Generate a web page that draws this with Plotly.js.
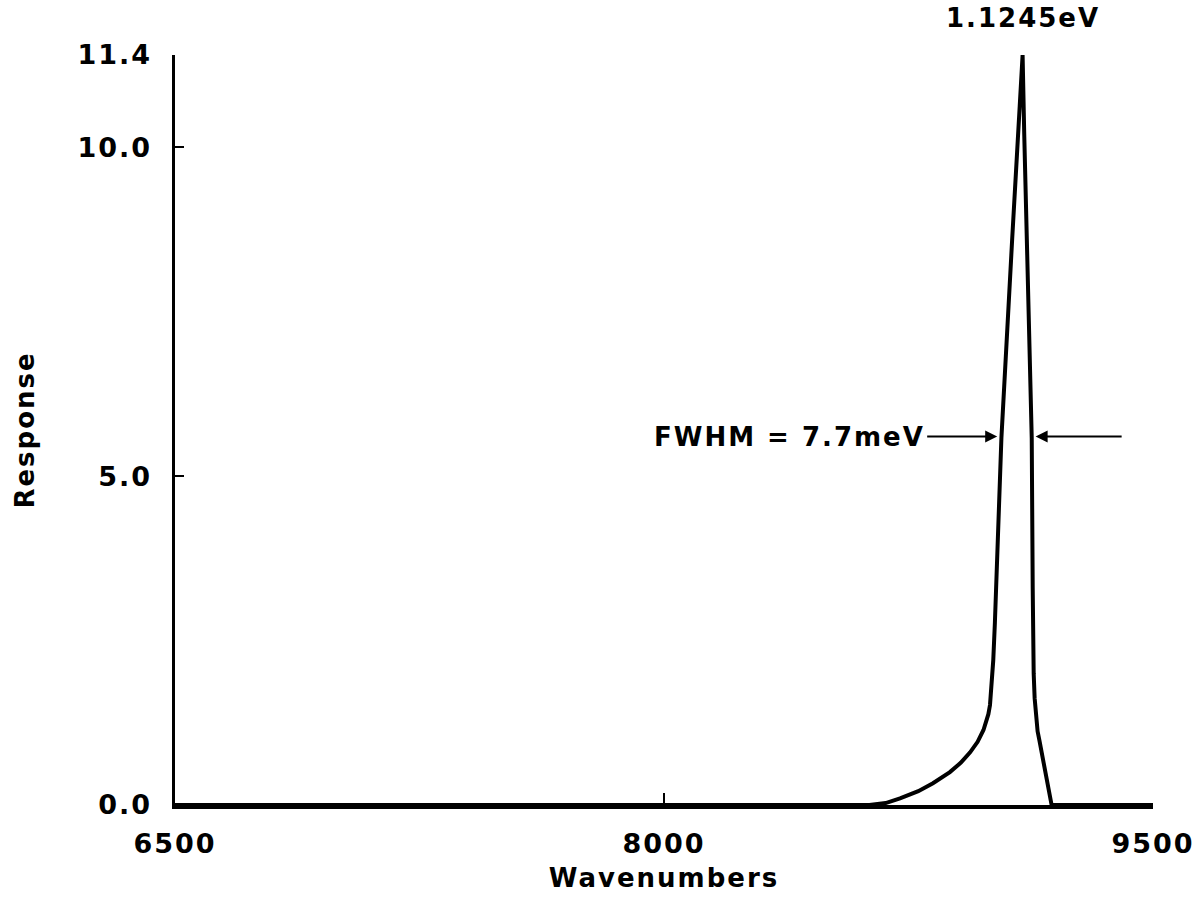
<!DOCTYPE html>
<html>
<head>
<meta charset="utf-8">
<script src="https://cdn.plot.ly/plotly-3.0.1.min.js"></script>
<style>
  html, body { margin: 0; padding: 0; background: #fff; }
  #chart { width: 1202px; height: 912px; }
  #chart svg text { letter-spacing: 2px; }
</style>
</head>
<body>
<div id="chart"></div>
<script>
// Spectral response curve (wavenumbers, response)
const wavenumbers = [6500, 8000, 8630, 8680, 8724, 8780, 8825, 8877, 8910, 8939, 8962, 8980, 8988, 8995, 9000, 9005, 9010, 9015, 9024, 9035, 9068, 9100, 9105, 9117, 9128, 9131, 9132, 9134, 9137, 9141, 9146, 9152, 9159, 9167, 9174, 9182, 9189, 9300, 9500];
const response    = [0,    0,    0,    0.03, 0.10, 0.21, 0.33, 0.50, 0.64, 0.80, 0.96, 1.14, 1.25, 1.38, 1.52, 1.80, 2.20, 2.77, 4.03, 5.58, 8.60, 11.4, 10.2, 7.9,  5.58, 3.30, 2.50, 2.00, 1.62, 1.30, 1.12, 0.97, 0.79, 0.57, 0.38, 0.18, 0.0,  0,    0];

const xTickVals = [6500, 8000, 9500];
const xTickText = ['6500', '8000', '9500'];
const yTickVals = [0, 5, 10, 11.4];
const yTickText = ['0.0', '5.0', '10.0', '11.4'];

const peakLabel = '1.1245eV';
const peakX = 9100, peakY = 11.4;
const fwhmLabel = 'FWHM = 7.7meV';
const halfMax = 5.6;
const fwhmTextX = 8768;          // right end of the FWHM text
const fwhmLeftX = 9022, fwhmRightX = 9140;

const FONT = 'DejaVu Sans, Liberation Sans, Arial, sans-serif';
const txt = (size) => ({ family: FONT, size: size, weight: 'bold', color: '#000' });

const trace = {
  x: wavenumbers,
  y: response,
  type: 'scatter',
  mode: 'lines',
  line: { color: '#000', width: 4 },
  hoverinfo: 'skip',
  showlegend: false
};

const arrowStyle = { arrowhead: 2, arrowsize: 1.2, arrowwidth: 2, arrowcolor: '#000', standoff: 0 };

const layout = {
  width: 1202,
  height: 912,
  margin: { l: 175, r: 49, t: 55, b: 107 },
  paper_bgcolor: '#fff',
  plot_bgcolor: '#fff',
  font: txt(26),
  xaxis: {
    range: [6500, 9500],
    tickvals: xTickVals,
    ticktext: xTickText,
    ticks: 'inside',
    ticklen: 12,
    tickwidth: 2.5,
    tickcolor: '#000',
    showline: true,
    linewidth: 3.5,
    linecolor: '#000',
    showgrid: false,
    zeroline: false,
    ticklabelstandoff: 12,
    tickfont: txt(27),
    title: { text: 'Wavenumbers', standoff: 12, font: txt(26) },
    automargin: false,
    fixedrange: true
  },
  yaxis: {
    range: [0, 11.4],
    tickvals: yTickVals,
    ticktext: yTickText,
    ticks: 'inside',
    ticklen: 9,
    tickwidth: 2.5,
    tickcolor: '#000',
    showline: true,
    linewidth: 3.5,
    linecolor: '#000',
    showgrid: false,
    zeroline: false,
    ticklabelstandoff: 14,
    tickfont: txt(27),
    title: { text: 'Response', standoff: 44, font: txt(26) },
    automargin: false,
    fixedrange: true
  },
  annotations: [
    {
      x: peakX, y: peakY, xref: 'x', yref: 'y',
      text: peakLabel, showarrow: false,
      yanchor: 'bottom', yshift: 20,
      font: txt(26)
    },
    {
      x: fwhmTextX, y: halfMax, xref: 'x', yref: 'y',
      text: fwhmLabel, showarrow: false,
      xanchor: 'right', yanchor: 'middle',
      font: txt(26)
    },
    Object.assign({
      x: fwhmLeftX, y: halfMax, xref: 'x', yref: 'y',
      text: ' ', showarrow: true, ax: -72, ay: 0,
      font: { family: FONT, size: 4, color: '#000' }
    }, arrowStyle),
    Object.assign({
      x: fwhmRightX, y: halfMax, xref: 'x', yref: 'y',
      text: ' ', showarrow: true, ax: 88, ay: 0,
      font: { family: FONT, size: 4, color: '#000' }
    }, arrowStyle)
  ]
};

Plotly.newPlot('chart', [trace], layout, { staticPlot: true, displayModeBar: false });
</script>
</body>
</html>
